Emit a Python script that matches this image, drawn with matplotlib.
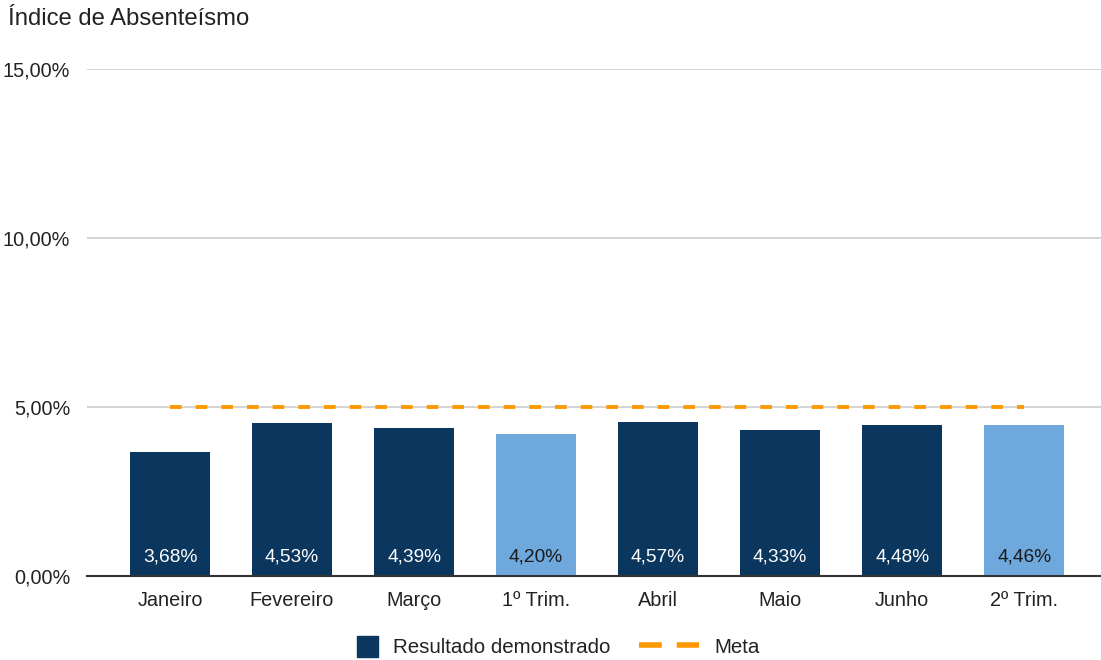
import matplotlib.pyplot as plt
from matplotlib.lines import Line2D
from matplotlib.patches import Patch, Rectangle
from matplotlib.legend_handler import HandlerPatch

categorias = ['Janeiro', 'Fevereiro', 'Março', '1º Trim.', 'Abril', 'Maio', 'Junho', '2º Trim.']
resultado = [3.68, 4.53, 4.39, 4.20, 4.57, 4.33, 4.48, 4.46]
meta = [5.0, 5.0, 5.0, 5.0, 5.0, 5.0, 5.0, 5.0]
trimestre = [False, False, False, True, False, False, False, True]
yticks = [0, 5, 10, 15]

ESCURO = '#0b365e'
CLARO = '#6fa8dc'
LARANJA = '#ff9900'

plt.rcParams['font.family'] = ['Liberation Sans', 'DejaVu Sans']


def quadrado(legend, orig_handle, xdescent, ydescent, width, height, fontsize):
    # square marker aligned to the right of the handle box
    s = 15
    return Rectangle((width - s - xdescent, (height - s) / 2 - ydescent), s, s)


fig = plt.figure(figsize=(11.01, 6.6), dpi=100)
ax = fig.add_axes([87 / 1101, 84 / 660, 1 - 87 / 1101, (576 - 69) / 660])

x = list(range(len(categorias)))
cores = [CLARO if t else ESCURO for t in trimestre]
bars = ax.bar(x, resultado, width=0.65, color=cores, zorder=2)

for b, v, t in zip(bars, resultado, trimestre):
    txt = f'{v:.2f}%'.replace('.', ',')
    ax.text(b.get_x() + b.get_width() / 2, 0.55, txt, ha='center', va='center',
            fontsize=13.8, color='#1a1a1a' if t else 'white', zorder=3)

ax.plot(x, meta, color=LARANJA, lw=2.8, dashes=(3.0, 3.6),
        solid_capstyle='butt', dash_capstyle='butt', zorder=4)

ax.set_xlim(-0.68, 7.63)
ax.set_ylim(0, 15)
ax.set_yticks(yticks)
ax.set_yticklabels([f'{v:.2f}%'.replace('.', ',') for v in yticks])
ax.set_xticks(x)
ax.set_xticklabels(categorias)
ax.tick_params(axis='both', length=0, labelsize=14.3, colors='#222222')
ax.tick_params(axis='y', pad=12)
ax.tick_params(axis='x', pad=11)

ax.grid(axis='y', color='#cccccc', lw=1.2, zorder=0)
for s in ['top', 'right', 'left']:
    ax.spines[s].set_visible(False)
ax.spines['bottom'].set_color('#333333')
ax.spines['bottom'].set_linewidth(1.5)
ax.spines['bottom'].set_zorder(5)

fig.text(8 / 1101, 1 - 19 / 660, 'Índice de Absenteísmo', fontsize=17.2,
         color='#222222', ha='left', va='center')

handles = [
    Patch(facecolor=ESCURO, edgecolor=ESCURO, label='Resultado demonstrado'),
    Line2D([0], [0], color=LARANJA, lw=4, dashes=(4.1, 2.7), dash_capstyle='butt',
           label='Meta'),
]
fig.legend(handles=handles, loc='center', bbox_to_anchor=(539 / 1101, 1 - 647 / 660),
           ncol=2, frameon=False, fontsize=14.8, handlelength=2.9, handleheight=1.1,
           columnspacing=1.4, handletextpad=0.75, labelcolor='#222222',
           handler_map={Patch: HandlerPatch(patch_func=quadrado)})

fig.savefig('out.png', dpi=100)
